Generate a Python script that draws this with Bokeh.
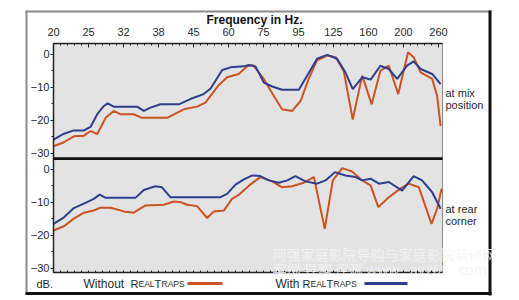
from bokeh.plotting import figure
from bokeh.models import Range1d, FixedTicker, Label, BoxAnnotation, LinearAxis
from bokeh.embed import file_html
from bokeh.resources import INLINE

# ---------------- data ----------------
band_labels = ["20", "25", "32", "38", "45", "60", "75", "95", "125", "160", "200", "260"]

# x positions are in band-index units (0 = 20 Hz, 11 = 260 Hz)
mix_with_x = [0.0, 0.3, 0.58, 0.87, 1.06, 1.25, 1.44, 1.55, 1.72, 2.39, 2.58, 2.77, 3.06, 3.58,
              3.91, 4.29, 4.49, 4.82, 5.06, 5.44, 5.58, 5.77, 6.01, 6.25, 6.53, 7.01, 7.25, 7.53,
              7.82, 8.1, 8.34, 8.55, 8.82, 9.06, 9.34, 9.58, 9.82, 10.1, 10.29, 10.49, 10.82, 11.06]
mix_with_db = [-25.8, -24.0, -23.0, -23.0, -21.9, -18.1, -15.6, -14.8, -15.8, -15.8, -17.1, -16.1,
               -15.1, -15.1, -13.5, -12.0, -10.3, -4.7, -3.9, -3.6, -3.2, -3.6, -8.5, -9.7, -10.7,
               -10.7, -6.4, -1.3, -0.1, -1.3, -5.4, -10.5, -6.9, -7.6, -3.4, -4.4, -7.4, -3.4, -2.1,
               -4.4, -5.9, -9.0]

mix_without_x = [0.0, 0.3, 0.58, 0.87, 1.06, 1.25, 1.49, 1.72, 1.91, 2.29, 2.53, 3.25, 3.72, 4.1,
                 4.34, 4.72, 4.96, 5.29, 5.53, 5.7, 6.01, 6.29, 6.53, 6.82, 7.06, 7.29, 7.53, 7.82,
                 8.06, 8.29, 8.55, 8.82, 9.09, 9.34, 9.58, 9.85, 10.13, 10.29, 10.49, 10.82, 10.96,
                 11.06]
mix_without_db = [-27.8, -26.6, -24.8, -24.6, -23.2, -24.1, -19.2, -17.1, -18.1, -18.1, -19.2,
                  -19.2, -16.6, -15.8, -14.6, -9.3, -6.9, -5.9, -3.6, -3.2, -7.4, -12.5, -16.6,
                  -17.1, -14.1, -7.4, -1.8, -0.3, -0.8, -4.9, -19.7, -6.4, -15.1, -4.9, -3.4,
                  -12.0, 0.7, -0.8, -5.4, -7.4, -12.5, -21.7]

rear_with_x = [0.0, 0.3, 0.58, 0.96, 1.15, 1.32, 1.49, 2.34, 2.58, 2.91, 3.1, 3.34, 4.77, 4.96,
               5.2, 5.44, 5.68, 5.91, 6.15, 6.44, 6.68, 6.91, 7.2, 7.53, 7.77, 8.04, 8.34, 8.63,
               8.82, 9.06, 9.3, 9.58, 9.96, 10.29, 10.53, 10.82, 11.06]
rear_with_db = [-16.5, -14.5, -11.7, -9.9, -8.9, -7.6, -8.6, -8.6, -6.2, -5.1, -5.4, -8.4, -8.4,
                -7.4, -4.6, -3.0, -1.8, -2.0, -3.3, -4.0, -3.3, -2.0, -3.6, -4.3, -3.3, -0.8,
                -1.8, -2.3, -3.3, -2.8, -4.3, -3.8, -6.4, -2.0, -3.3, -6.9, -11.9]

rear_without_x = [0.0, 0.3, 0.58, 0.87, 1.15, 1.34, 1.63, 2.01, 2.29, 2.63, 3.15, 3.44, 3.63,
                  3.82, 4.1, 4.39, 4.58, 4.87, 5.1, 5.29, 5.63, 5.91, 6.25, 6.53, 6.82, 7.15,
                  7.44, 7.75, 7.98, 8.25, 8.53, 8.82, 9.06, 9.28, 9.58, 9.91, 10.15, 10.44, 10.8,
                  10.96, 11.09]
rear_without_db = [-18.5, -17.2, -14.9, -13.1, -12.4, -11.6, -11.6, -12.7, -13.1, -10.9, -10.7,
                   -9.7, -9.9, -10.7, -11.1, -14.7, -12.7, -12.4, -8.9, -7.7, -4.5, -2.3, -3.6,
                   -5.4, -5.1, -4.0, -2.3, -18.0, -3.3, 0.4, -0.6, -3.3, -4.8, -11.4, -8.4, -5.8,
                   -4.3, -5.4, -16.5, -11.9, -5.8]

db_ticks = [0, -10, -20, -30]
db_minor = [-5, -15, -25]

# ---------------- layout (pixels) ----------------
W, H = 519, 300
PL, PR = 53, 442          # plot area left / right
TOP_T, TOP_B = 43, 158    # top panel
BOT_T, BOT_B = 158, 272   # bottom panel
PX_PER_BAND = 35.0
PX_PER_DB = 3.3
DB_TOP = 3.33
X_MAX = (PR - PL) / PX_PER_BAND

ORANGE = "#cc5322"
BLUE = "#2d3f8e"
BG = "#e3e3e3"
TXT = "#2a2a2a"
FONT = "Liberation Sans"


def db_at(py, panel_top):
    return DB_TOP - (py - panel_top) / PX_PER_DB


top_ymin = db_at(TOP_B, TOP_T)
bot_ymin = db_at(BOT_B, BOT_T)

p = figure(width=W, height=H, output_backend="svg", toolbar_location=None,
           x_range=Range1d(0, W), y_range=Range1d(0, H),
           x_axis_type=None, y_axis_type=None, min_border=0)
p.outline_line_color = None
p.background_fill_color = "white"
p.border_fill_color = "white"
p.extra_x_ranges = {"band": Range1d(-PL / PX_PER_BAND, (W - PL) / PX_PER_BAND)}
p.extra_y_ranges = {
    "top": Range1d(db_at(H, TOP_T), db_at(0, TOP_T)),
    "bot": Range1d(db_at(H, BOT_T), db_at(0, BOT_T)),
}


def Y(py):
    return H - py


def box(x0, x1, y0, y1, color, level="annotation", line=None):
    p.add_layout(BoxAnnotation(left=x0, right=x1, top=Y(y0), bottom=Y(y1),
                               fill_color=color, fill_alpha=1.0,
                               line_color=line, line_alpha=1.0 if line else 0.0,
                               line_width=1, level=level))


def text(px, py, s, size="11px", align="left", style="normal", font=FONT, color=TXT, **kw):
    p.add_layout(Label(x=px, y=Y(py), text=s, text_font=font, text_font_size=size,
                       text_align=align, text_baseline="middle", text_color=color,
                       text_font_style=style, **kw))


# panel backgrounds
box(PL, PR, TOP_T, TOP_B, BG, level="underlay", line="#8a8a8a")
box(PL, PR, BOT_T, BOT_B, BG, level="underlay", line="#8a8a8a")

# curves
p.line(mix_without_x, mix_without_db, x_range_name="band", y_range_name="top",
       line_color=ORANGE, line_width=2)
p.line(mix_with_x, mix_with_db, x_range_name="band", y_range_name="top",
       line_color=BLUE, line_width=2)
p.line(rear_without_x, rear_without_db, x_range_name="band", y_range_name="bot",
       line_color=ORANGE, line_width=2)
p.line(rear_with_x, rear_with_db, x_range_name="band", y_range_name="bot",
       line_color=BLUE, line_width=2)

# axes
band_ticks = list(range(len(band_labels)))
band_minor = [i + k * 0.2 for i in range(len(band_labels) - 1) for k in range(1, 5)]


def style_axis(ax):
    ax.axis_line_color = "#222222"
    ax.axis_line_width = 1.5
    ax.major_tick_line_color = "#222222"
    ax.minor_tick_line_color = "#222222"
    ax.major_label_text_font = FONT
    ax.major_label_text_font_size = "11px"
    ax.major_label_text_color = TXT


top_x = LinearAxis(x_range_name="band", y_range_name="top", fixed_location=DB_TOP,
                   bounds=(0, X_MAX),
                   ticker=FixedTicker(ticks=band_ticks, minor_ticks=band_minor),
                   major_label_overrides={i: lab for i, lab in enumerate(band_labels)})
style_axis(top_x)
top_x.major_tick_in = 4
top_x.major_tick_out = 0
top_x.minor_tick_in = 2
top_x.minor_tick_out = 0
top_x.major_label_standoff = 8
p.add_layout(top_x, "above")

bot_x = LinearAxis(x_range_name="band", y_range_name="bot", fixed_location=bot_ymin,
                   bounds=(0, X_MAX),
                   ticker=FixedTicker(ticks=[], minor_ticks=sorted(band_ticks + band_minor)))
style_axis(bot_x)
bot_x.minor_tick_in = 2
bot_x.minor_tick_out = 0
p.add_layout(bot_x, "below")

for name, ymin in (("top", top_ymin), ("bot", bot_ymin)):
    ay = LinearAxis(x_range_name="band", y_range_name=name, fixed_location=0,
                    bounds=(ymin, DB_TOP),
                    ticker=FixedTicker(ticks=db_ticks, minor_ticks=db_minor))
    style_axis(ay)
    ay.major_tick_in = 0
    ay.major_tick_out = 3
    ay.minor_tick_in = 0
    ay.minor_tick_out = 2
    ay.major_label_standoff = 1
    p.add_layout(ay, "left")

# separator between panels
box(PL, PR, 156.8, 159.5, "#111111")

# outer frame
box(25, 27, 10, 294, "#8a8a8a")
box(25, 491, 10, 12, "#8a8a8a")
box(488, 491, 10, 295, "#111111")
box(25, 491, 291.5, 294.5, "#111111")

# texts
text(254, 19, "Frequency in Hz.", size="12px", align="center", style="bold", color="#111111")
text(445, 92, "at mix")
text(445, 104, "position")
text(445, 208, "at rear")
text(445, 220, "corner")
text(36, 283, "dB.")

# watermark
wm_font = "Noto Sans CJK SC"
text(272, 253, "阿强家庭影院导购与家庭影院装修网", size="14px", font=wm_font,
     color="#f4f4f4", text_alpha=0.85)
text(272, 268, "案例  导购  评测   www . av269 . com", size="14px", font=wm_font,
     color="#f4f4f4", text_alpha=0.85)

# legend
text(83, 283, "Without", size="12px")
text(130, 283, "R", size="11px")
text(138, 283.5, "EAL", size="8.5px")
text(154, 283, "T", size="11px")
text(161, 283.5, "RAPS", size="8.5px")
box(187, 222, 281.5, 284.5, ORANGE)

text(275, 283, "With", size="12px")
text(302, 283, "R", size="11px")
text(310, 283.5, "EAL", size="8.5px")
text(326, 283, "T", size="11px")
text(333, 283.5, "RAPS", size="8.5px")
box(364, 407, 281.5, 284.5, BLUE)

open("out.html", "w").write(file_html(p, INLINE))
